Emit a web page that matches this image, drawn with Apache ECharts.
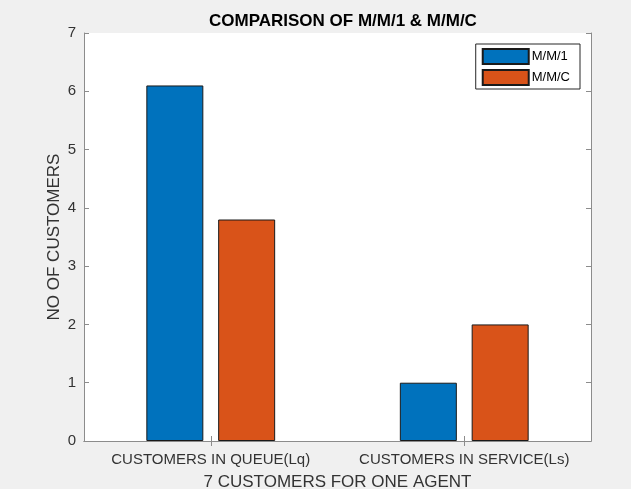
<!DOCTYPE html>
<html>
<head>
<meta charset="utf-8">
<script src="https://cdn.jsdelivr.net/npm/echarts@6/dist/echarts.min.js"></script>
<style>
  html, body { margin: 0; padding: 0; background: #f0f0f0; }
  #chart { width: 631px; height: 489px; }
</style>
</head>
<body>
<div id="chart"></div>
<script>
// Queue metrics for the two queueing models
const categories = ['CUSTOMERS IN QUEUE(Lq)', 'CUSTOMERS IN SERVICE(Ls)'];
const seriesNames = ['M/M/1', 'M/M/C'];
const mm1Values = [6.1, 1.0];
const mmcValues = [3.8, 2.0];
const yTicks = [0, 1, 2, 3, 4, 5, 6, 7];

const axisColor = '#8c8c8c';
const textColor = '#333333';
const font = 'Liberation Sans, Arial, Helvetica, sans-serif';

const chart = echarts.init(document.getElementById('chart'), null, { renderer: 'canvas' });

const boxAxis = (extra) => Object.assign({
  axisLine: { show: true, lineStyle: { color: axisColor, width: 1 } },
  axisTick: { show: true, inside: true, length: 5, lineStyle: { color: axisColor } },
  splitLine: { show: false }
}, extra);

chart.setOption({
  backgroundColor: '#f0f0f0',
  animation: false,
  // title is centred over the plot box rather than the whole canvas
  title: {
    text: 'COMPARISON OF M/M/1 & M/M/C',
    left: 204,
    top: 8,
    textStyle: { fontFamily: font, fontSize: 17, fontWeight: 'bold', color: '#000' }
  },
  legend: {
    data: seriesNames,
    orient: 'vertical',
    right: 51,
    top: 44,
    itemWidth: 46,
    itemHeight: 15,
    itemGap: 4,
    padding: [4, 10, 3, 6],
    backgroundColor: '#ffffff',
    borderColor: '#262626',
    borderWidth: 1,
    borderRadius: 0,
    icon: 'rect',
    textStyle: { fontFamily: font, fontSize: 13, color: '#000', padding: [0, 0, 0, -2] }
  },
  grid: {
    left: 84, right: 40, top: 33, bottom: 48,
    outerBoundsMode: 'none',
    show: true, backgroundColor: '#ffffff', borderWidth: 0
  },
  xAxis: [
    boxAxis({
      type: 'category',
      data: categories,
      position: 'bottom',
      axisTick: { show: true, inside: true, length: 5, alignWithLabel: true, lineStyle: { color: axisColor } },
      axisLabel: { interval: 0, fontFamily: font, fontSize: 15, color: textColor, margin: 11 },
      name: '7 CUSTOMERS FOR ONE AGENT',
      nameLocation: 'middle',
      nameGap: 33,
      nameMoveOverlap: false,
      nameTextStyle: { fontFamily: font, fontSize: 17, color: textColor }
    }),
    boxAxis({
      type: 'category',
      data: categories,
      position: 'top',
      axisTick: { show: true, inside: true, length: 5, alignWithLabel: true, lineStyle: { color: axisColor } },
      axisLabel: { show: false }
    })
  ],
  yAxis: [
    boxAxis({
      type: 'value',
      min: yTicks[0],
      max: yTicks[yTicks.length - 1],
      interval: 1,
      position: 'left',
      axisLabel: { fontFamily: font, fontSize: 15, color: textColor, margin: 8 },
      name: 'NO OF CUSTOMERS',
      nameLocation: 'middle',
      nameGap: 21,
      nameMoveOverlap: false,
      nameTextStyle: { fontFamily: font, fontSize: 17, color: textColor }
    }),
    boxAxis({
      type: 'value',
      min: yTicks[0],
      max: yTicks[yTicks.length - 1],
      interval: 1,
      position: 'right',
      axisLabel: { show: false }
    })
  ],
  series: [
    {
      name: seriesNames[0],
      type: 'bar',
      xAxisIndex: 0,
      yAxisIndex: 0,
      data: mm1Values,
      barWidth: 57,
      barGap: '26%',
      itemStyle: { color: '#0072BD', borderColor: '#1a1a1a', borderWidth: 1 }
    },
    {
      name: seriesNames[1],
      type: 'bar',
      xAxisIndex: 0,
      yAxisIndex: 0,
      data: mmcValues,
      barWidth: 57,
      barGap: '26%',
      itemStyle: { color: '#D95319', borderColor: '#1a1a1a', borderWidth: 1 }
    }
  ]
});
</script>
</body>
</html>
